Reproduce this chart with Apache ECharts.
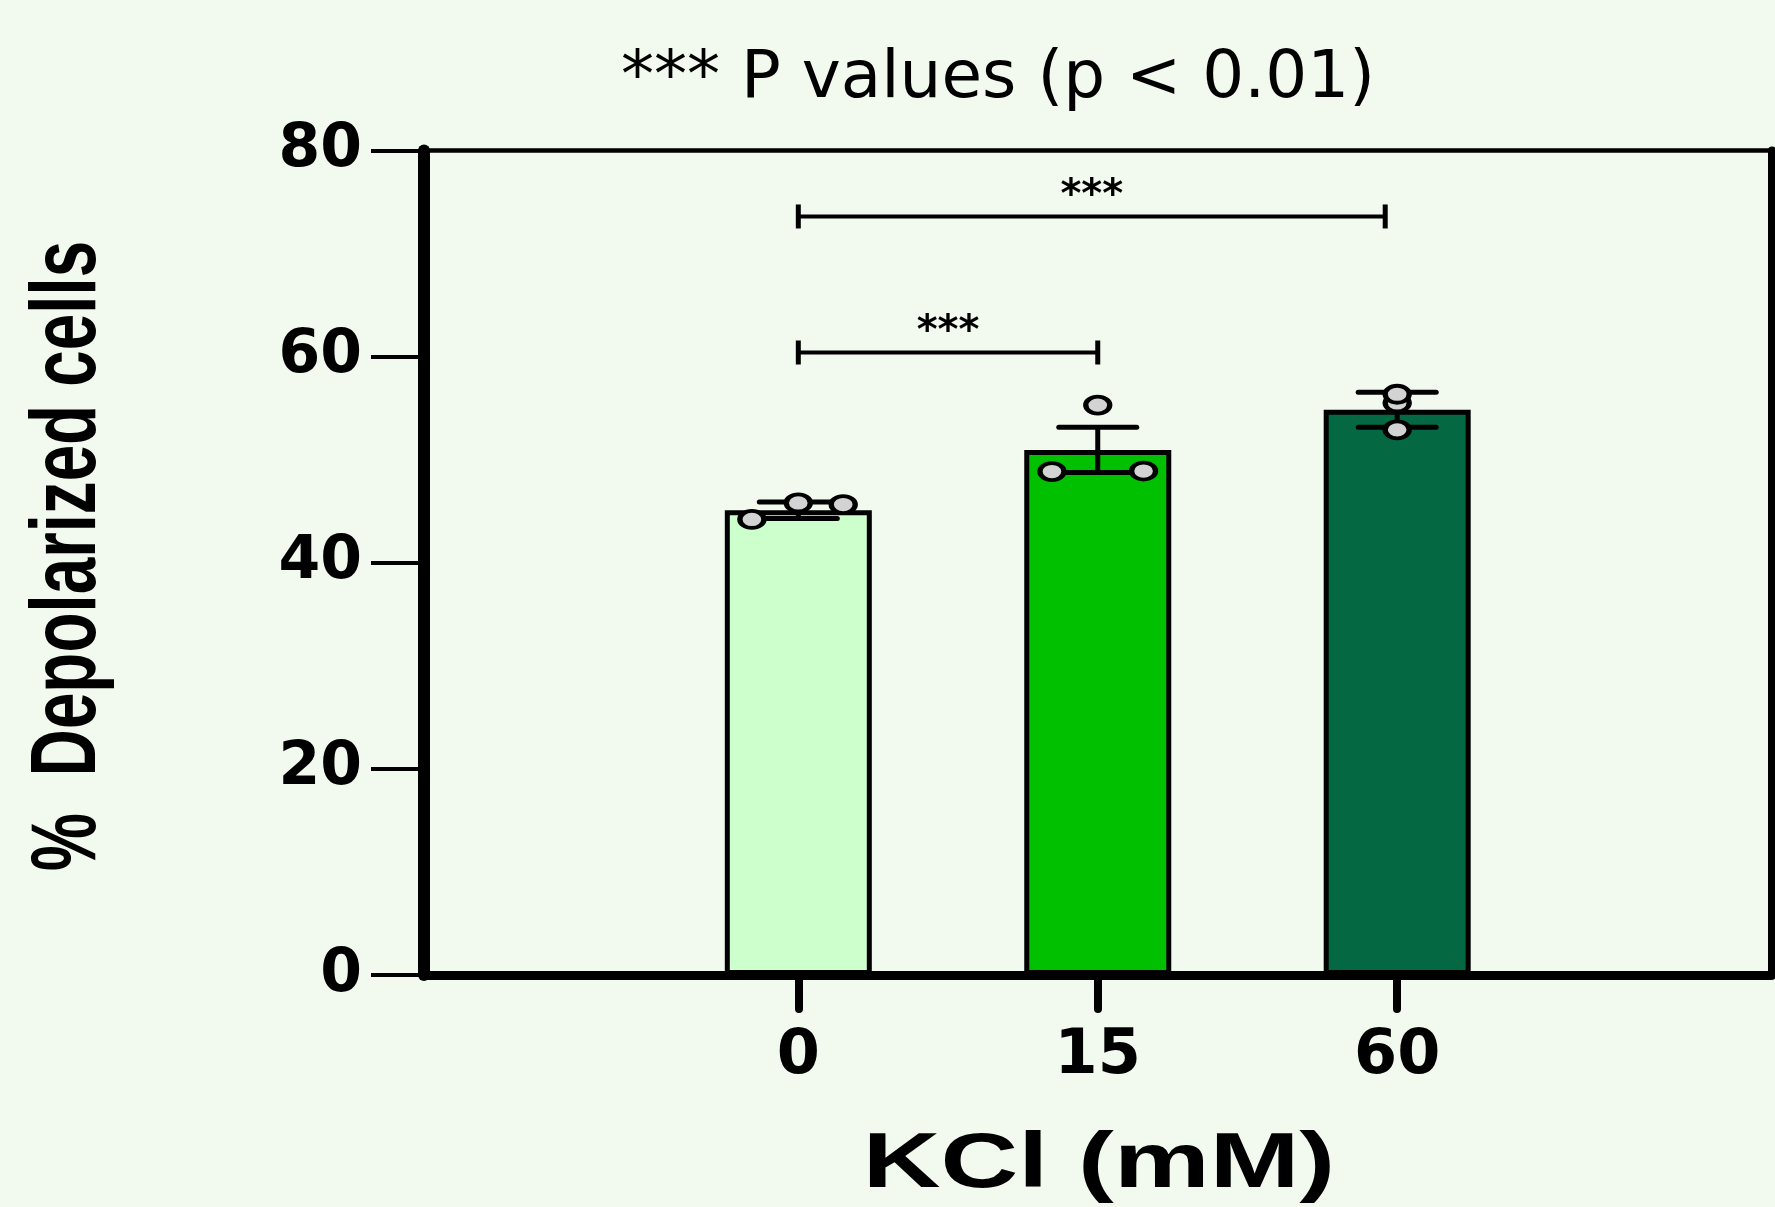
<!DOCTYPE html>
<html>
<head>
<meta charset="utf-8">
<script src="https://cdn.jsdelivr.net/npm/echarts@6/dist/echarts.min.js"></script>
<style>
html,body{margin:0;padding:0;background:#f2faf0;}
#chart{width:1775px;height:1207px;}
</style>
</head>
<body>
<div id="chart"></div>
<script>
// ---- data ----
const categories = ['0', '15', '60'];
const barMeans = [45.1, 50.95, 54.85];
const barErrors = [0.8, 2.2, 1.7];
const pointValues = [[44.2, 45.8, 45.65], [48.85, 48.9, 55.3], [55.5, 52.9, 56.35]];
const pointOffsets = [[-0.155, 0, 0.15], [-0.153, 0.153, 0], [0, 0, 0]];
const bracketFrom = [0, 0];
const bracketTo = [1.96, 1];
const bracketLevel = [73.6, 60.4];
const bracketLabels = ['***', '***'];
const yTicks = [0, 20, 40, 60, 80];
const titleText = '*** P values (p < 0.01)';
const xTitle = 'KCl (mM)';
const yTitle = '%  Depolarized cells';

// ---- styles ----
const barColors = ['#ccffcc', '#00c000', '#046842'];
const boldFont = '"DejaVu Sans", sans-serif';
const titleFont = '"Liberation Sans", Arial, sans-serif';

const barData = barMeans.map((v, i) => ({
  value: [i, v],
  itemStyle: { color: barColors[i] }
}));
const errData = barMeans.map((v, i) => [i, v - barErrors[i], v + barErrors[i]]);
const ptData = [];
pointValues.forEach((arr, i) => arr.forEach((v, j) => ptData.push([i + pointOffsets[i][j], v])));
const brData = bracketFrom.map((f, i) => [f, bracketTo[i], bracketLevel[i], i]);

const chart = echarts.init(document.getElementById('chart'), null, { renderer: 'canvas' });
chart.setOption({
  backgroundColor: '#f2faf0',
  animation: false,
  title: {
    text: titleText,
    left: 616,
    top: 42,
    textStyle: { fontFamily: '"DejaVu Sans", sans-serif', fontWeight: 'normal', fontSize: 66, color: '#000' }
  },
  graphic: [{
    type: 'text',
    x: 1099,
    y: 1165,
    scaleX: 1.38,
    silent: true,
    style: { text: xTitle, fill: '#000', font: 'bold 78px ' + titleFont, textAlign: 'center', textVerticalAlign: 'middle' }
  }, {
    type: 'text',
    x: 69,
    y: 556,
    rotation: Math.PI / 2,
    scaleX: 0.705,
    silent: true,
    style: { text: yTitle, fill: '#000', font: 'bold 93px ' + titleFont, textAlign: 'center', textVerticalAlign: 'middle' }
  }],
  grid: { left: 424, right: 3.5, top: 150.5, bottom: 232, containLabel: false },
  xAxis: [{
    type: 'value',
    min: -1.25,
    max: 3.25,
    splitLine: { show: false },
    axisLine: { show: true, onZero: false, lineStyle: { color: '#000', width: 9 } },
    axisTick: { show: true, customValues: [0, 1, 2], length: 34, lineStyle: { color: '#000', width: 8, cap: 'round' } },
    axisLabel: {
      customValues: [0, 1, 2],
      formatter: v => categories[Math.round(v)],
      margin: 51,
      fontFamily: boldFont, fontWeight: 'bold', fontSize: 62, color: '#000'
    }
  }, {
    type: 'value',
    position: 'top',
    min: -1.25,
    max: 3.25,
    splitLine: { show: false },
    axisLine: { show: true, onZero: false, lineStyle: { color: '#000', width: 4.5 } },
    axisTick: { show: false },
    axisLabel: { show: false }
  }],
  yAxis: [{
    type: 'value',
    min: yTicks[0],
    max: yTicks[yTicks.length - 1],
    interval: 20,
    splitLine: { show: false },
    axisLine: { show: true, onZero: false, lineStyle: { color: '#000', width: 12, cap: 'round' } },
    axisTick: { show: true, length: 53, lineStyle: { color: '#000', width: 4 } },
    axisLabel: { margin: 62, fontFamily: boldFont, fontWeight: 'bold', fontSize: 60, color: '#000' }
  }, {
    type: 'value',
    position: 'right',
    min: 0,
    max: 80,
    interval: 20,
    splitLine: { show: false },
    axisLine: { show: true, onZero: false, lineStyle: { color: '#000', width: 8, cap: 'round' } },
    axisTick: { show: false },
    axisLabel: { show: false }
  }],
  series: [{
    type: 'bar',
    data: barData,
    barWidth: 147,
    itemStyle: { borderColor: '#000', borderWidth: 5 },
    z: 2
  }, {
    type: 'custom',
    data: errData,
    z: 3,
    renderItem: (params, api) => {
      const x = api.value(0);
      const lo = api.coord([x, api.value(1)]);
      const hi = api.coord([x, api.value(2)]);
      const hw = 39;
      const st = { stroke: '#000', lineWidth: 5 };
      return {
        type: 'group',
        children: [
          { type: 'line', shape: { x1: lo[0], y1: lo[1], x2: hi[0], y2: hi[1] }, style: st },
          { type: 'line', shape: { x1: hi[0] - hw, y1: hi[1], x2: hi[0] + hw, y2: hi[1] }, style: Object.assign({ lineCap: 'round' }, st) },
          { type: 'line', shape: { x1: lo[0] - hw, y1: lo[1], x2: lo[0] + hw, y2: lo[1] }, style: Object.assign({ lineCap: 'round' }, st) }
        ]
      };
    }
  }, {
    type: 'scatter',
    data: ptData,
    symbol: 'circle',
    symbolSize: [24, 17],
    itemStyle: { color: '#d3d3d3', borderColor: '#000', borderWidth: 4.5, opacity: 1 },
    z: 4
  }, {
    type: 'custom',
    data: brData,
    z: 5,
    renderItem: (params, api) => {
      const a = api.coord([api.value(0), api.value(2)]);
      const b = api.coord([api.value(1), api.value(2)]);
      const label = bracketLabels[api.value(3)];
      const st = { stroke: '#000', lineWidth: 4 };
      const h = 12;
      return {
        type: 'group',
        children: [
          { type: 'line', shape: { x1: a[0], y1: a[1], x2: b[0], y2: b[1] }, style: st },
          { type: 'line', shape: { x1: a[0], y1: a[1] - h, x2: a[0], y2: a[1] + h }, style: { stroke: '#000', lineWidth: 5 } },
          { type: 'line', shape: { x1: b[0], y1: b[1] - h, x2: b[0], y2: b[1] + h }, style: { stroke: '#000', lineWidth: 5 } },
          { type: 'text', x: (a[0] + b[0]) / 2, y: a[1] - 20,
            style: { text: label, fill: '#000', font: 'bold 40px "DejaVu Sans", sans-serif', textAlign: 'center', textVerticalAlign: 'middle' } }
        ]
      };
    }
  }]
});
</script>
</body>
</html>
